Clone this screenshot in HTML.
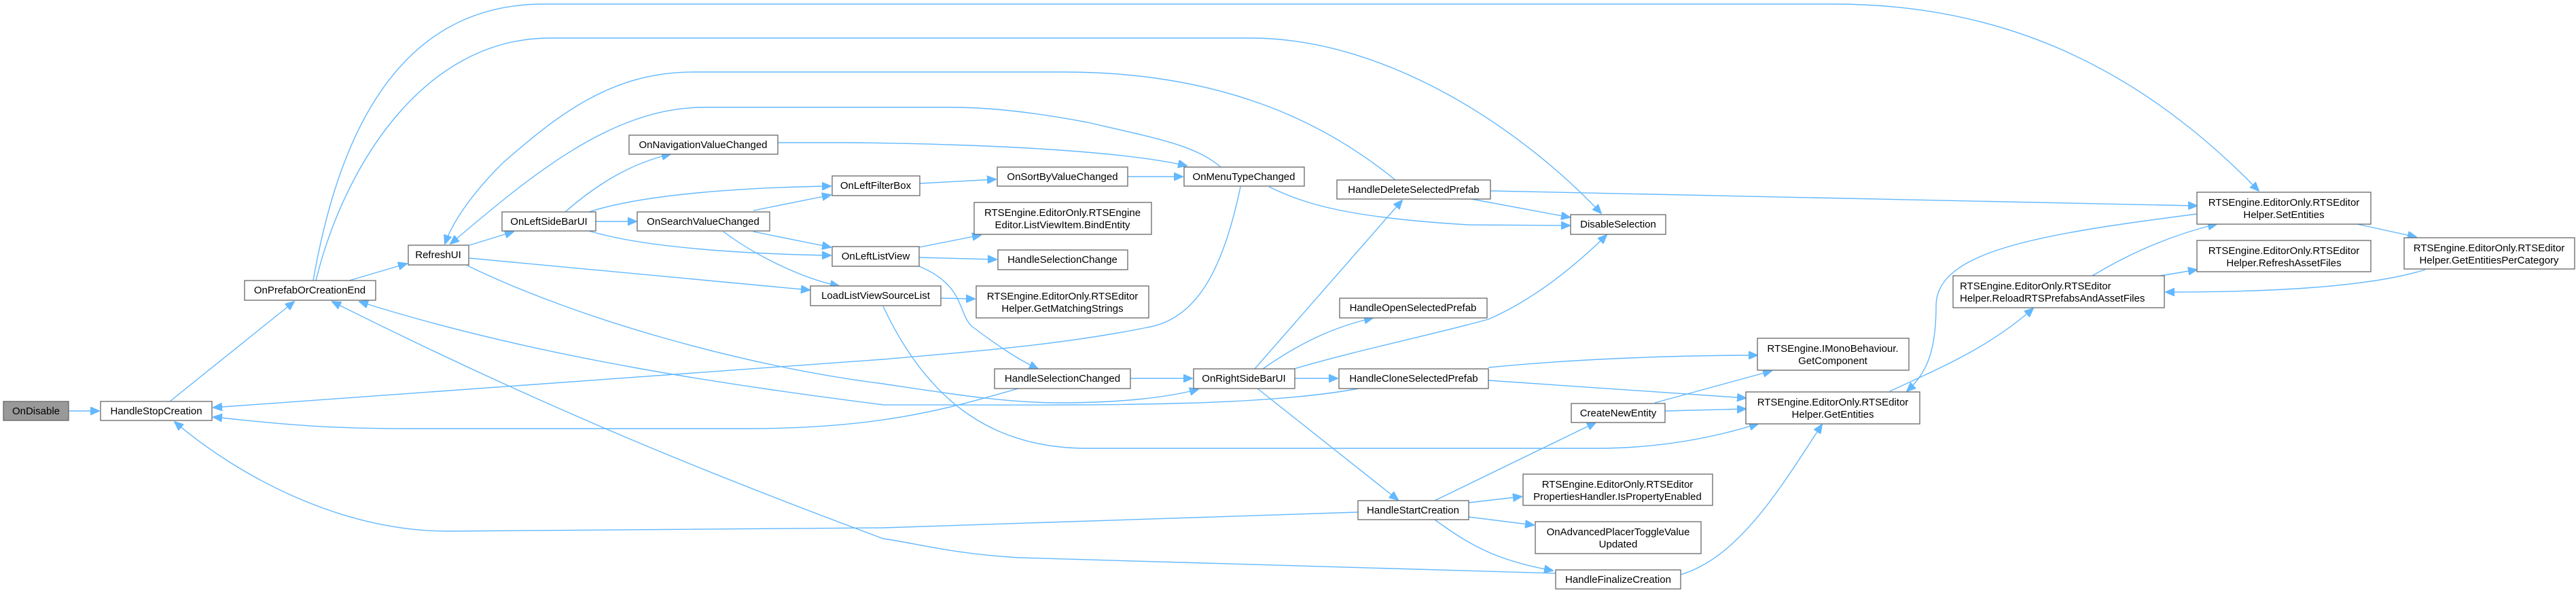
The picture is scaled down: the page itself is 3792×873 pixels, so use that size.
<!DOCTYPE html>
<html><head><meta charset="utf-8"><style>
html,body{margin:0;padding:0;background:#fff}
svg{display:block}
text{font-family:"Liberation Sans",Arial,sans-serif;font-size:15px;fill:#000}
.b{fill:#fff;stroke:#666;stroke-width:1.3}
.e{fill:none;stroke:#63b8ff;stroke-width:1.4}
</style></head><body>
<svg width="3792" height="873" viewBox="0 0 3792 873" xmlns="http://www.w3.org/2000/svg">
<defs><marker id="a" markerWidth="14" markerHeight="12" refX="13" refY="6" orient="auto" markerUnits="userSpaceOnUse"><path d="M0,0 L14,6 L0,12 Z" fill="#63b8ff" stroke="#63b8ff"/></marker></defs>
<g class="e" marker-end="url(#a)">
<path d="M101,605 L146,605"/>
<path d="M250,591 L433,444"/>
<path d="M514,413 L599,388"/>
<path d="M461,413 C490,250 560,6 800,6 L2700,6 C2950,6 3150,100 3325,281"/>
<path d="M465,413 C505,250 620,56 810,56 L1840,56 C2050,56 2250,200 2357,314"/>
<path d="M2054,265 C1950,180 1800,106 1565,106 L1020,106 C900,106 820,170 740,240 C690,290 665,330 655,359"/>
<path d="M1797,246 C1760,215 1714,206 1600,180 C1520,165 1457,158 1400,158 L1036,158 C900,158 780,260 663,359"/>
<path d="M691,361 L756,341"/>
<path d="M691,380 L1192,427"/>
<path d="M688,391 C850,470 1100,540 1300,565 C1400,580 1480,593 1560,593 C1650,593 1720,585 1764,573"/>
<path d="M832,312 C880,270 930,240 987,227"/>
<path d="M867,312 C950,285 1100,276 1223,274"/>
<path d="M877,326 L937,326"/>
<path d="M867,340 C950,365 1100,374 1223,376"/>
<path d="M1109,310 L1223,287"/>
<path d="M1109,341 L1223,364"/>
<path d="M1065,341 C1110,375 1180,410 1235,421"/>
<path d="M1145,210 L1250,210 C1450,212 1650,222 1747,244"/>
<path d="M1354,270 L1466,264"/>
<path d="M1660,260 L1741,260"/>
<path d="M1868,275 C1920,300 1980,320 2162,331 L2311,332"/>
<path d="M1826,275 C1800,400 1760,470 1689,482 C1550,510 1400,520 1300,529 L314,600"/>
<path d="M1353,364 L1444,346"/>
<path d="M1353,379 L1467,382"/>
<path d="M1353,392 C1420,420 1410,460 1430,480 C1470,510 1500,530 1528,543"/>
<path d="M1385,439 L1435,440"/>
<path d="M1300,451 C1370,600 1470,660 1600,660 L2350,660 C2450,660 2530,642 2588,624"/>
<path d="M1664,557 L1755,557"/>
<path d="M1499,572 C1400,600 1300,631 1100,631 L600,631 C450,631 380,620 314,614"/>
<path d="M1847,543 L2064,295"/>
<path d="M1859,543 C1920,500 1970,480 2021,468"/>
<path d="M1905,543 C2000,515 2120,490 2191,470 C2260,440 2320,390 2365,346"/>
<path d="M1906,557 L1969,557"/>
<path d="M1851,572 L2058,736"/>
<path d="M2166,293 L2311,320"/>
<path d="M2194,281 L3234,303"/>
<path d="M2000,572 C1850,600 1600,596 1300,596 C1100,570 800,530 529,444"/>
<path d="M2191,541 C2300,530 2450,523 2587,523"/>
<path d="M2191,560 L2570,586"/>
<path d="M2436,593 L2608,546"/>
<path d="M2451,605 L2570,602"/>
<path d="M2112,737 L2349,622"/>
<path d="M2162,740 L2240,731"/>
<path d="M2162,761 L2258,773"/>
<path d="M2112,765 C2160,800 2200,825 2286,840"/>
<path d="M1999,754 L1300,777 L660,782 C500,782 350,700 257,621"/>
<path d="M2290,844 L1500,821 C1400,815 1350,800 1300,793 C1050,700 800,600 489,444"/>
<path d="M2474,846 C2560,820 2620,720 2682,625"/>
<path d="M2782,576 C2860,540 2930,510 2993,454"/>
<path d="M3234,315 C3000,345 2850,370 2850,450 C2850,520 2835,550 2807,576"/>
<path d="M3080,406 C3140,370 3200,345 3263,330"/>
<path d="M3180,406 L3234,397"/>
<path d="M3470,330 L3557,349"/>
<path d="M3570,397 C3480,425 3320,430 3188,430"/>
</g>
<g>
<rect x="5" y="591" width="96" height="28" fill="#999" stroke="#666" stroke-width="1.3"/><text x="53" y="610" text-anchor="middle">OnDisable</text>
<rect class="b" x="148" y="591" width="164" height="28"/><text x="230" y="610" text-anchor="middle">HandleStopCreation</text>
<rect class="b" x="360" y="413" width="193" height="29"/><text x="456" y="432" text-anchor="middle">OnPrefabOrCreationEnd</text>
<rect class="b" x="601" y="361" width="89" height="29"/><text x="645" y="380" text-anchor="middle">RefreshUI</text>
<rect class="b" x="739" y="312" width="138" height="28"/><text x="808" y="331" text-anchor="middle">OnLeftSideBarUI</text>
<rect class="b" x="926" y="199" width="219" height="28"/><text x="1035" y="218" text-anchor="middle">OnNavigationValueChanged</text>
<rect class="b" x="938" y="312" width="195" height="28"/><text x="1035" y="331" text-anchor="middle">OnSearchValueChanged</text>
<rect class="b" x="1225" y="259" width="129" height="29"/><text x="1289" y="278" text-anchor="middle">OnLeftFilterBox</text>
<rect class="b" x="1225" y="363" width="128" height="29"/><text x="1289" y="382" text-anchor="middle">OnLeftListView</text>
<rect class="b" x="1193" y="421" width="192" height="29"/><text x="1289" y="440" text-anchor="middle">LoadListViewSourceList</text>
<rect class="b" x="1468" y="246" width="192" height="28"/><text x="1564" y="265" text-anchor="middle">OnSortByValueChanged</text>
<rect class="b" x="1743" y="246" width="177" height="28"/><text x="1831" y="265" text-anchor="middle">OnMenuTypeChanged</text>
<rect class="b" x="1434" y="298" width="261" height="47"/><text x="1564" y="318" text-anchor="middle">RTSEngine.EditorOnly.RTSEngine</text><text x="1564" y="336" text-anchor="middle">Editor.ListViewItem.BindEntity</text>
<rect class="b" x="1469" y="368" width="191" height="29"/><text x="1564" y="387" text-anchor="middle">HandleSelectionChange</text>
<rect class="b" x="1437" y="421" width="254" height="47"/><text x="1564" y="441" text-anchor="middle">RTSEngine.EditorOnly.RTSEditor</text><text x="1564" y="459" text-anchor="middle">Helper.GetMatchingStrings</text>
<rect class="b" x="1464" y="543" width="200" height="29"/><text x="1564" y="562" text-anchor="middle">HandleSelectionChanged</text>
<rect class="b" x="1757" y="543" width="149" height="29"/><text x="1831" y="562" text-anchor="middle">OnRightSideBarUI</text>
<rect class="b" x="1968" y="265" width="226" height="28"/><text x="2081" y="284" text-anchor="middle">HandleDeleteSelectedPrefab</text>
<rect class="b" x="2312" y="316" width="140" height="29"/><text x="2382" y="335" text-anchor="middle">DisableSelection</text>
<rect class="b" x="1972" y="439" width="217" height="29"/><text x="2080" y="458" text-anchor="middle">HandleOpenSelectedPrefab</text>
<rect class="b" x="1971" y="543" width="220" height="29"/><text x="2081" y="562" text-anchor="middle">HandleCloneSelectedPrefab</text>
<rect class="b" x="2313" y="594" width="138" height="28"/><text x="2382" y="613" text-anchor="middle">CreateNewEntity</text>
<rect class="b" x="1999" y="737" width="163" height="28"/><text x="2080" y="756" text-anchor="middle">HandleStartCreation</text>
<rect class="b" x="2242" y="698" width="279" height="46"/><text x="2381" y="718" text-anchor="middle">RTSEngine.EditorOnly.RTSEditor</text><text x="2381" y="736" text-anchor="middle">PropertiesHandler.IsPropertyEnabled</text>
<rect class="b" x="2260" y="768" width="244" height="47"/><text x="2382" y="788" text-anchor="middle">OnAdvancedPlacerToggleValue</text><text x="2382" y="806" text-anchor="middle">Updated</text>
<rect class="b" x="2290" y="839" width="184" height="28"/><text x="2382" y="858" text-anchor="middle">HandleFinalizeCreation</text>
<rect class="b" x="3234" y="283" width="256" height="47"/><text x="3362" y="303" text-anchor="middle">RTSEngine.EditorOnly.RTSEditor</text><text x="3362" y="321" text-anchor="middle">Helper.SetEntities</text>
<rect class="b" x="3234" y="354" width="256" height="46"/><text x="3362" y="374" text-anchor="middle">RTSEngine.EditorOnly.RTSEditor</text><text x="3362" y="392" text-anchor="middle">Helper.RefreshAssetFiles</text>
<rect class="b" x="3539" y="350" width="251" height="46"/><text x="3664" y="370" text-anchor="middle">RTSEngine.EditorOnly.RTSEditor</text><text x="3664" y="388" text-anchor="middle">Helper.GetEntitiesPerCategory</text>
<rect class="b" x="2875" y="406" width="311" height="47"/><text x="2885" y="426">RTSEngine.EditorOnly.RTSEditor</text><text x="2885" y="444">Helper.ReloadRTSPrefabsAndAssetFiles</text>
<rect class="b" x="2587" y="498" width="223" height="47"/><text x="2698" y="518" text-anchor="middle">RTSEngine.IMonoBehaviour.</text><text x="2698" y="536" text-anchor="middle">GetComponent</text>
<rect class="b" x="2570" y="577" width="256" height="47"/><text x="2698" y="597" text-anchor="middle">RTSEngine.EditorOnly.RTSEditor</text><text x="2698" y="615" text-anchor="middle">Helper.GetEntities</text>
</g>
</svg>
</body></html>
